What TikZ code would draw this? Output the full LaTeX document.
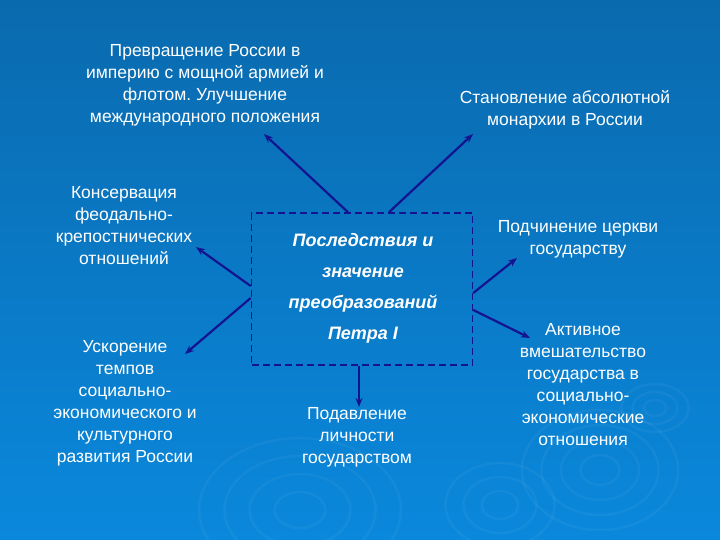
\documentclass[tikz,border=0pt]{standalone}
\usepackage{fontspec}
\setmainfont{Liberation Sans}
\usetikzlibrary{arrows.meta}
\frenchspacing
\definecolor{bgtop}{RGB}{10,106,174}
\definecolor{bgbot}{RGB}{10,136,220}
\definecolor{navy}{RGB}{20,20,145}
\tikzset{
	txt/.style={text=white, align=center, font=\fontsize{17.5}{22}\selectfont, inner sep=0pt},
	arr/.style={line width=2.2pt, color=navy, -{Stealth[length=9pt,width=7pt]}},
	ripple/.style={white, opacity=0.045, line width=2.5pt}
}
\begin{document}
\begin{tikzpicture}[x=1pt, y=-1pt]
		%%%%% START %%%%%
		\shade[top color=bgtop, bottom color=bgbot] (0, 0) rectangle (720, 540);
		\useasboundingbox (0, 0) rectangle (720, 540);
		
		% ripples
		\foreach \r in {8, 16, 24}
			\draw[ripple] (655, 408) ellipse ({\r*1.4} and \r);
		\foreach \r in {15, 30, 45, 60}
			\draw[ripple] (600, 470) ellipse ({\r*1.3} and \r);
		\foreach \r in {18, 36, 54, 72}
			\draw[ripple] (300, 510) ellipse ({\r*1.4} and \r);
		\foreach \r in {14, 28, 42}
			\draw[ripple] (500, 505) ellipse ({\r*1.3} and \r);
		
		\node[draw=navy, dash pattern=on 7pt off 4pt, line width=1.6pt, minimum width=221pt, minimum height=152pt] (center) at (362, 289) {};
		\node[txt, font=\fontsize{18}{31}\selectfont\bfseries\itshape] (title) at (363, 288)
			{Последствия и\\значение\\преобразований\\Петра I};
		
		\node[txt] (empire) at (205, 85) {Превращение России в\\империю с мощной армией и\\флотом. Улучшение\\международного положения};
		\node[txt] (monarchy) at (565, 110) {Становление абсолютной\\монархии в России};
		\node[txt] (serfdom) at (124, 226) {Консервация\\феодально-\\крепостнических\\отношений};
		\node[txt] (church) at (578, 239) {Подчинение церкви\\государству};
		\node[txt] (speedup) at (125, 403) {Ускорение\\темпов\\социально-\\экономического и\\культурного\\развития России};
		\node[txt] (suppress) at (357, 437) {Подавление\\личности\\государством};
		\node[txt] (economy) at (583, 385) {Активное\\вмешательство\\государства в\\социально-\\экономические\\отношения};
		
		\coordinate (empire tip) at (264, 134);
		\coordinate (monarchy tip) at (473, 134);
		\coordinate (serfdom tip) at (196, 247);
		\coordinate (speedup tip) at (185, 354);
		\coordinate (church tip) at (517, 258);
		\coordinate (economy tip) at (530, 338);
		\coordinate (suppress tip) at (359, 407);
		
		\draw[arr] ([xshift=-14pt]center.north) -- (empire tip);
		\draw[arr] ([xshift=27pt]center.north) -- (monarchy tip);
		\draw[arr] ([yshift=3pt]center.west) -- (serfdom tip);
		\draw[arr] ([yshift=-9pt]center.west) -- (speedup tip);
		\draw[arr] ([yshift=-4pt]center.east) -- (church tip);
		\draw[arr] ([yshift=-21pt]center.east) -- (economy tip);
		\draw[arr, line width=1.8pt] ([xshift=-3pt]center.south) -- (suppress tip);
		
		%%%%% END %%%%%
	\end{tikzpicture}
\end{document}
